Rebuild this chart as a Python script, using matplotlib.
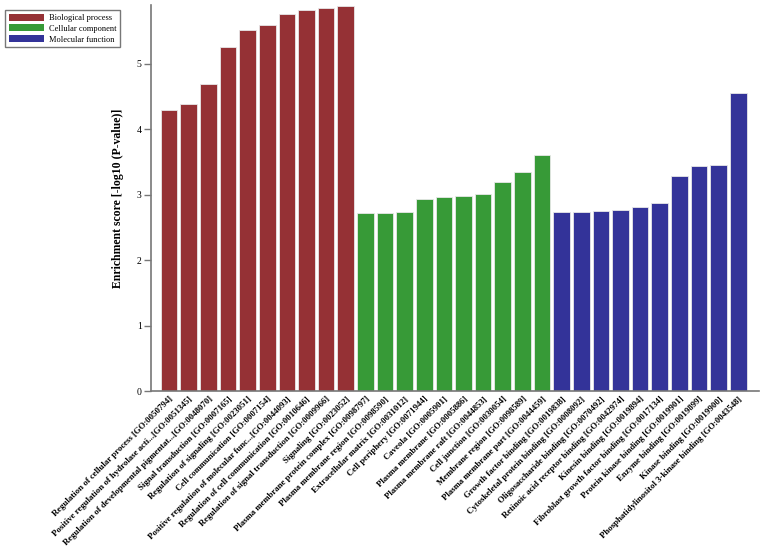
import numpy as np
import matplotlib.pyplot as plt
from matplotlib.patches import Patch

# GO terms and enrichment scores
bp_terms = [
    "Regulation of cellular process [GO:0050794]",
    "Positive regulation of hydrolase acti...[GO:0051345]",
    "Regulation of developmental pigmentat...[GO:0048070]",
    "Signal transduction [GO:0007165]",
    "Regulation of signaling [GO:0023051]",
    "Cell communication [GO:0007154]",
    "Positive regulation of molecular func...[GO:0044093]",
    "Regulation of cell communication [GO:0010646]",
    "Regulation of signal transduction [GO:0009966]",
    "Signaling [GO:0023052]",
]
bp_scores = [4.29, 4.38, 4.69, 5.26, 5.51, 5.60, 5.76, 5.82, 5.86, 5.89]

cc_terms = [
    "Plasma membrane protein complex [GO:0098797]",
    "Plasma membrane region [GO:0098590]",
    "Extracellular matrix [GO:0031012]",
    "Cell periphery [GO:0071944]",
    "Caveola [GO:0005901]",
    "Plasma membrane [GO:0005886]",
    "Plasma membrane raft [GO:0044853]",
    "Cell junction [GO:0030054]",
    "Membrane region [GO:0098589]",
    "Plasma membrane part [GO:0044459]",
]
cc_scores = [2.72, 2.72, 2.73, 2.94, 2.96, 2.98, 3.01, 3.19, 3.34, 3.61]

mf_terms = [
    "Growth factor binding [GO:0019838]",
    "Cytoskeletal protein binding [GO:0008092]",
    "Oligosaccharide binding [GO:0070492]",
    "Retinoic acid receptor binding [GO:0042974]",
    "Kinesin binding [GO:0019894]",
    "Fibroblast growth factor binding [GO:0017134]",
    "Protein kinase binding [GO:0019901]",
    "Enzyme binding [GO:0019899]",
    "Kinase binding [GO:0019900]",
    "Phosphatidylinositol 3-kinase binding [GO:0043548]",
]
mf_scores = [2.73, 2.74, 2.75, 2.76, 2.82, 2.88, 3.28, 3.44, 3.46, 4.56]

group_names = ["Biological process", "Cellular component", "Molecular function"]
group_colors = ["#953135", "#379a37", "#333399"]

plt.rcParams['font.family'] = ['Liberation Serif', 'DejaVu Serif']

terms = bp_terms + cc_terms + mf_terms
scores = bp_scores + cc_scores + mf_scores
colors = ([group_colors[0]] * len(bp_terms) + [group_colors[1]] * len(cc_terms)
          + [group_colors[2]] * len(mf_terms))
x = np.arange(len(terms))

fig = plt.figure(figsize=(7.65, 5.5), dpi=100)
ax = fig.add_axes([0.197, 0.289, 0.795, 0.702])

ax.bar(x, scores, width=0.85, color=colors, edgecolor="#e8e8e8", linewidth=0.6)

ax.set_xlim(-0.94, 30.05)
ax.set_ylim(0, 5.9)
ax.set_yticks([0, 1, 2, 3, 4, 5])
ax.set_xticks(x)
ax.set_xticklabels(terms, rotation=45, ha="right", rotation_mode="anchor",
                   fontsize=6.3, fontweight="bold")
ax.tick_params(axis="x", length=0, pad=3)
ax.tick_params(axis="y", length=5, width=1, color="#777777", labelsize=7, pad=1.5)
ax.set_ylabel("Enrichment score [-log10 (P-value)]", fontsize=8.5, fontweight="bold", labelpad=9)

for side in ["top", "right"]:
    ax.spines[side].set_visible(False)
for side in ["left", "bottom"]:
    ax.spines[side].set_color("#777777")
    ax.spines[side].set_linewidth(1.2)

handles = [Patch(facecolor=c, edgecolor="none") for c in group_colors]
fig.legend(handles, group_names, loc="upper left", bbox_to_anchor=(0.007, 0.982),
           fontsize=6, frameon=True, fancybox=False, edgecolor="#555555",
           handlelength=4.2, handleheight=0.9, labelspacing=0.3,
           borderpad=0.45, handletextpad=0.6, borderaxespad=0)

fig.savefig("out.png", dpi=100)
